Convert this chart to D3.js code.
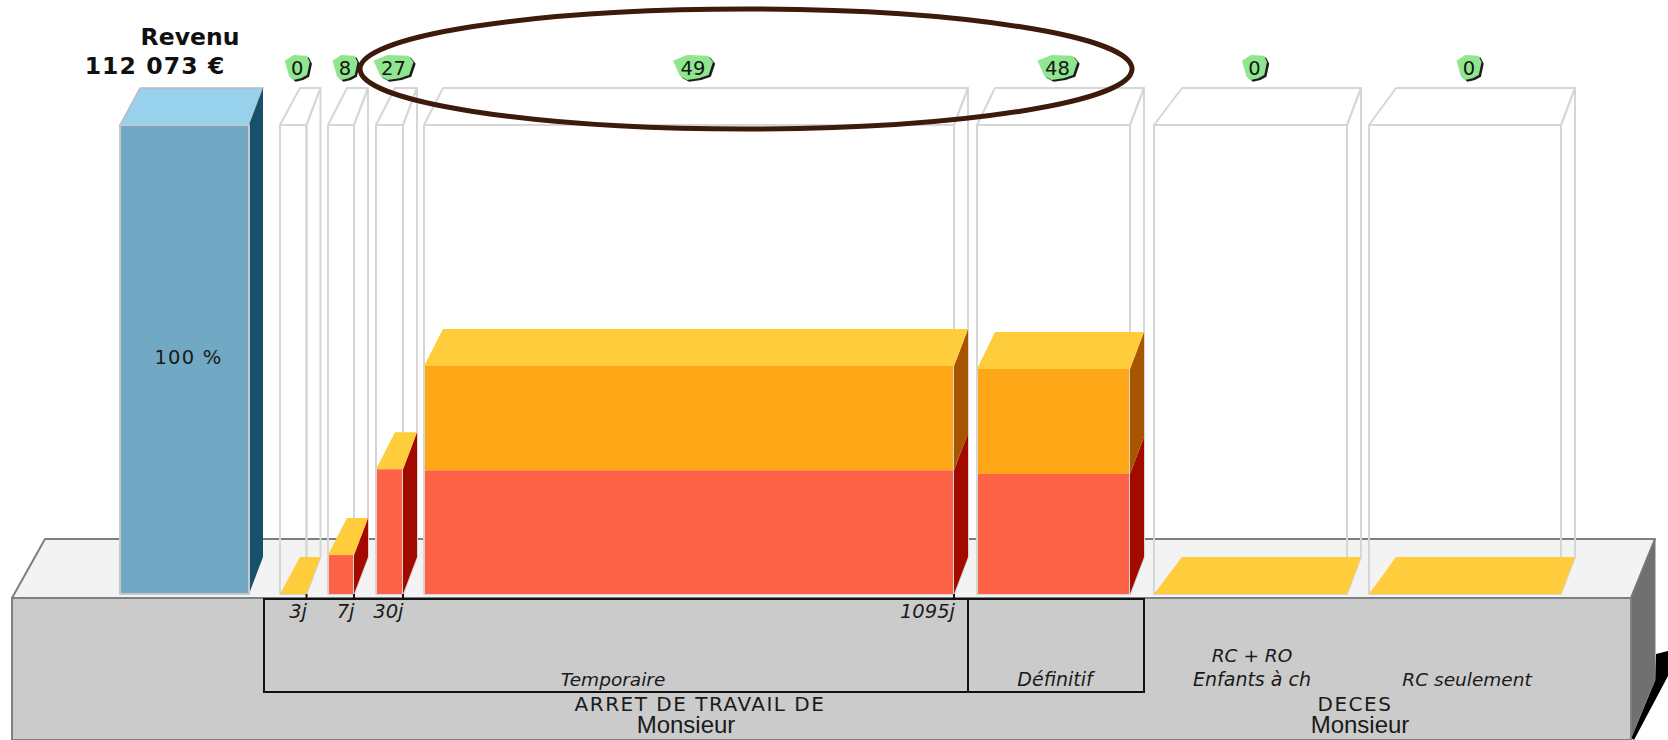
<!DOCTYPE html>
<html><head><meta charset="utf-8">
<script src="https://cdn.jsdelivr.net/npm/d3@7"></script>
<style>html,body{margin:0;padding:0;background:#fff;overflow:hidden}svg{display:block}text{font-family:"DejaVu Sans",sans-serif}</style>
</head><body><svg id="c" width="1668" height="740"></svg>
<script>
// ---- data
const categories = ["c3j","c7j","c30j","c1095j","Definitif","RCRO","RCseul"];
const redValues = [0, 8.3, 26.6, 26.4, 25.6, 0, 0];
const orangeValues = [0, 0, 0, 22.2, 22.4, 0, 0];
const badgeLabels = ["0","8","27","49","48","0","0"];
const revenuePercent = 100;
const revenueTitle = "Revenu";
const revenueAmount = "112 073 €";
const durationLabels = ["3j","7j","30j","1095j"];
const groupLabels = ["Temporaire","Définitif"];
// ---- layout
const W=1668,H=740;
const lefts=[280,328,376,424,977,1154,1369], rights=[306.5,354,403,954,1130,1347,1561];
const leftSkew=[20,19,19,19,18,28,27];
const depthX=14, depthY=37;
const y=d3.scaleLinear().domain([0,100]).range([594,125]);
const xL=d3.scaleOrdinal(categories,lefts), xR=d3.scaleOrdinal(categories,rights), skew=d3.scaleOrdinal(categories,leftSkew);
const svg=d3.select("#c");
const line=d3.line().curve(d3.curveLinearClosed);
const poly=(pts,fill,stroke,sw)=>svg.append("path").attr("d",line(pts)).attr("fill",fill).attr("stroke",stroke||"none").attr("stroke-width",sw||0).attr("stroke-linejoin","round");
const C={yellow:"#ffcc3b",orange:"#ffa716",orangeSide:"#a85500",red:"#ff6347",redSide:"#a20a00",frame:"#d6d6d6"};

// base block
poly([[12,598],[45,539],[1655,539],[1631,598]],"#f3f3f3","#7f7f7f",2);
poly([[1631,738],[1655,680],[1656,654],[1668,651],[1668,676],[1634,740]],"#000");
poly([[1631,598],[1655,539],[1655,680],[1631,738]],"#707070","#7a7a7a",1);
poly([[12,598],[1631,598],[1631,740],[12,740]],"#cbcbcb","#808080",2);

// revenue bar
const bx0=120,bx1=249,bdl=20;
const b0=y(0),bt=y(revenuePercent);
poly([[bx0,bt],[bx0+bdl,bt-depthY],[bx1+depthX,bt-depthY],[bx1,bt]],"#98d1ec","#bbbbbb",1.5);
poly([[bx1,bt],[bx1+depthX,bt-depthY],[bx1+depthX,b0-37],[bx1,b0]],"#17506b");
poly([[bx0,bt],[bx1,bt],[bx1,b0],[bx0,b0]],"#71a9c5","#c4c8cb",2);

// columns
categories.forEach((c,i)=>{
  const x0=xL(c),x1=xR(c),dl=skew(c);
  poly([[x0,y(100)],[x0+dl,y(100)-depthY],[x1+depthX,y(100)-depthY],[x1,y(100)]],"#fff",C.frame,2);
  poly([[x1,y(100)],[x1+depthX,y(100)-depthY],[x1+depthX,y(0)-depthY],[x1,y(0)]],"none",C.frame,2);
  poly([[x0,y(100)],[x1,y(100)],[x1,y(0)],[x0,y(0)]],"none",C.frame,2);
  const r=redValues[i],o=orangeValues[i],t=r+o;
  const yr=y(r),yt=y(t);
  if(r>0) poly([[x1,yr],[x1+depthX,yr-depthY],[x1+depthX,y(0)-depthY],[x1,y(0)]],C.redSide);
  if(o>0) poly([[x1,yt],[x1+depthX,yt-depthY],[x1+depthX,yr-depthY],[x1,yr]],C.orangeSide);
  poly([[x0,yt],[x0+dl,yt-depthY],[x1+depthX,yt-depthY],[x1,yt]],C.yellow);
  if(r>0) poly([[x0+1,yr],[x1-1,yr],[x1-1,y(0)],[x0+1,y(0)]],C.red);
  if(o>0) poly([[x0+1,yt],[x1-1,yt],[x1-1,yr],[x0+1,yr]],C.orange);
  // badge
  const cx=(x0+x1+depthX)/2-3, lab=badgeLabels[i], hw=lab.length>1?20:12.5, cy=67.5;
  const shape=[[-1,-.55],[-.3,-1],[.75,-.95],[1,-.45],[.78,.6],[.3,.85],[-.3,1],[-.65,.7]];
  poly(shape.map(p=>[p[0]*hw+2.2+cx,p[1]*12.5+1.8+cy]),"#1d1d1d");
  poly(shape.map(p=>[p[0]*hw+cx,p[1]*12.5+cy]),"#8fe68f");
  svg.append("text").attr("x",cx).attr("y",cy+7.5).attr("text-anchor","middle").attr("font-size",19.5).attr("fill","#151515").text(lab);
});

// texts
const txt=(s,x,yy,size,opt={})=>svg.append("text").attr("x",x).attr("y",yy).attr("font-size",size)
  .attr("text-anchor",opt.anchor||"middle").attr("font-style",opt.italic?"italic":"normal")
  .attr("font-weight",opt.bold?"bold":"normal").attr("fill",opt.fill||"#1a1a1a")
  .attr("letter-spacing",opt.ls||0)
  .style("font-family",opt.family||null).text(s);
txt(revenueTitle,190,45,23.5,{bold:true,fill:"#111"});
txt(revenueAmount,155,74,23.5,{bold:true,ls:1.1,fill:"#111"});
txt(revenuePercent+" %",188.5,364,19.5,{ls:1.2});

// duration box
svg.append("path").attr("d","M264 599H1144V692H264Z M968 599V692").attr("fill","none").attr("stroke","#111").attr("stroke-width",2);
durationLabels.forEach((d,i)=>{
  const xr=rights[i];
  svg.append("line").attr("x1",xr).attr("x2",xr).attr("y1",594).attr("y2",599).attr("stroke","#111").attr("stroke-width",2);
  txt(d,xr+(i==3?1:0.5),618,19.5,{italic:true,anchor:"end"});
});
txt(groupLabels[0],613,686,18.5,{italic:true});
txt(groupLabels[1],1055,686,19,{italic:true});
txt("RC + RO",1252,662,18.5,{italic:true});
txt("Enfants à ch",1252,686,19,{italic:true});
txt("RC seulement",1467,686,18.5,{italic:true});
txt("ARRET DE TRAVAIL DE",700,711,20,{ls:1.5});
txt("DECES",1355,711,20,{ls:1.5});
const sans='"Liberation Sans",Arial,sans-serif';
txt("Monsieur",686,733,24,{family:sans});
txt("Monsieur",1360,733,24,{family:sans});

// hand drawn ellipse
svg.append("ellipse").attr("cx",746).attr("cy",69).attr("rx",386).attr("ry",60).attr("fill","none").attr("stroke","#3d1a0a").attr("stroke-width",5);
</script></body></html>
